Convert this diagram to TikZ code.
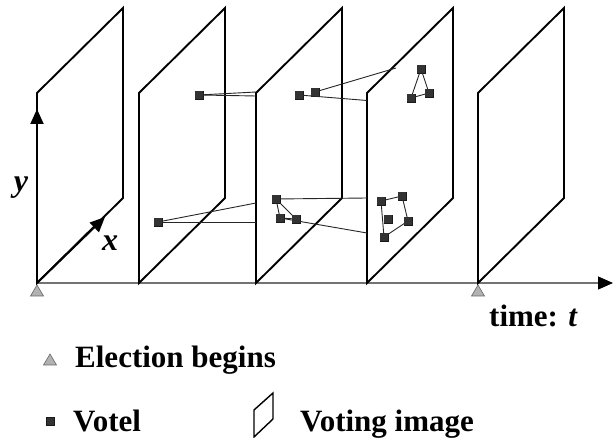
\documentclass[tikz,border=0pt]{standalone}
\usepackage{fontspec}
\setmainfont{Liberation Serif}
\usetikzlibrary{arrows.meta}
\tikzset{
  plane/.style={draw=black, line width=1.9pt, line join=miter},
  axisline/.style={draw=black!55, line width=1.2pt},
  votel/.style={rectangle, fill=black!80, draw=black!90, line width=0.3pt, minimum size=7.5pt, inner sep=0pt},
  link/.style={draw=black!85, line width=0.9pt},
  marker/.style={fill=black!30, draw=black!60, line width=0.6pt},
  lbl/.style={font=\fontsize{31}{36}\selectfont\bfseries, anchor=base west, inner sep=0pt},
  axlbl/.style={font=\fontsize{32}{36}\selectfont\bfseries\itshape, inner sep=0pt}
}
\begin{document}
\begin{tikzpicture}[x=1pt,y=-1pt]
\useasboundingbox (0,0) rectangle (616,438);
% time axis
\coordinate (o) at (37,283);
\coordinate (tend) at (613,283);
\draw[axisline, -{Triangle[length=15pt,width=13pt,color=black,fill=black]}] (o) -- (tend);
% planes
\foreach \n/\xx in {1/37,2/139,3/256,4/367,5/478}{
  \coordinate (p\n a) at (\xx,283);
  \coordinate (p\n b) at (\xx,93);
  \coordinate (p\n c) at (\xx+86,8);
  \coordinate (p\n d) at (\xx+86,198);
  \draw[plane] (p\n a) -- (p\n b) -- (p\n c) -- (p\n d) -- cycle;
}
% axes on first plane
\coordinate (ytip) at (37,109);
\coordinate (xtip) at (105,217);
\draw[line width=1.9pt, -{Triangle[length=15pt,width=13pt]}] (p1a) -- (ytip);
\draw[line width=1.9pt, -{Triangle[length=15pt,width=13pt]}] (p1a) -- (xtip);
\node[axlbl] (ylab) at (21,188) {y};
\node[axlbl] (xlab) at (110,243) {x};
% election markers on axis
\draw[marker] (37,285) -- (43.5,296) -- (30.5,296) -- cycle;
\draw[marker] (478,285) -- (484.5,296) -- (471.5,296) -- cycle;
% free ends of links
\coordinate (e1) at (256,92);
\coordinate (e2) at (256,96);
\coordinate (e3) at (396,68);
\coordinate (e4) at (367,100.5);
\coordinate (e5) at (256,203);
\coordinate (e6) at (256,222);
\coordinate (e7) at (367,198);
\coordinate (e8) at (367,233);
% votels
\node[votel] (v1) at (199,95) {};
\node[votel] (v2) at (299,95) {};
\node[votel] (v3) at (315,92) {};
\node[votel] (v4) at (421,69) {};
\node[votel] (v5) at (429,93) {};
\node[votel] (v6) at (411,98) {};
\node[votel] (v7) at (158,222) {};
\node[votel] (v8) at (276,199) {};
\node[votel] (v9) at (280,218) {};
\node[votel] (v10) at (296,219) {};
\node[votel] (v11) at (381,201) {};
\node[votel] (v12) at (402,196) {};
\node[votel] (v13) at (408,221) {};
\node[votel] (v14) at (384,237) {};
\node[votel] (v15) at (388,219) {};
% links
\draw[link] (v1.center) -- (e1);
\draw[link] (v1.center) -- (e2);
\draw[link] (v3.center) -- (e3);
\draw[link] (v2.center) -- (e4);
\draw[link] (v4.center) -- (v5.center) -- (v6.center) -- cycle;
\draw[link] (v7.center) -- (e5);
\draw[link] (v7.center) -- (e6);
\draw[link] (v8.center) -- (v9.center) -- (v10.center) -- cycle;
\draw[link] (v8.center) -- (e7);
\draw[link] (v9.center) -- (e8);
\draw[link] (v11.center) -- (v12.center) -- (v13.center) -- (v14.center) -- cycle;
% redraw votels on top
\foreach \v in {v1,v2,v3,v4,v5,v6,v7,v8,v9,v10,v11,v12,v13,v14,v15}{
  \fill[black!80] ([shift={(-3.75,-3.75)}]\v.center) rectangle ([shift={(3.75,3.75)}]\v.center);
}
% labels
\node[lbl] (tlab) at (489,327) {time: \textit{t}};
% legend
\draw[marker] (50,354) -- (56.5,365) -- (43.5,365) -- cycle;
\node[lbl] (leg1) at (75,367) {Election begins};
\node[votel] (legv) at (50,421) {};
\node[lbl] (leg2) at (73,431) {Votel};
\coordinate (ia) at (254,437);
\coordinate (ib) at (254,410);
\coordinate (ic) at (273,393);
\coordinate (id) at (273,419);
\draw[line width=1.4pt] (ia) -- (ib) -- (ic) -- (id) -- cycle;
\node[lbl] (leg3) at (300,431) {Voting image};
\end{tikzpicture}
\end{document}
